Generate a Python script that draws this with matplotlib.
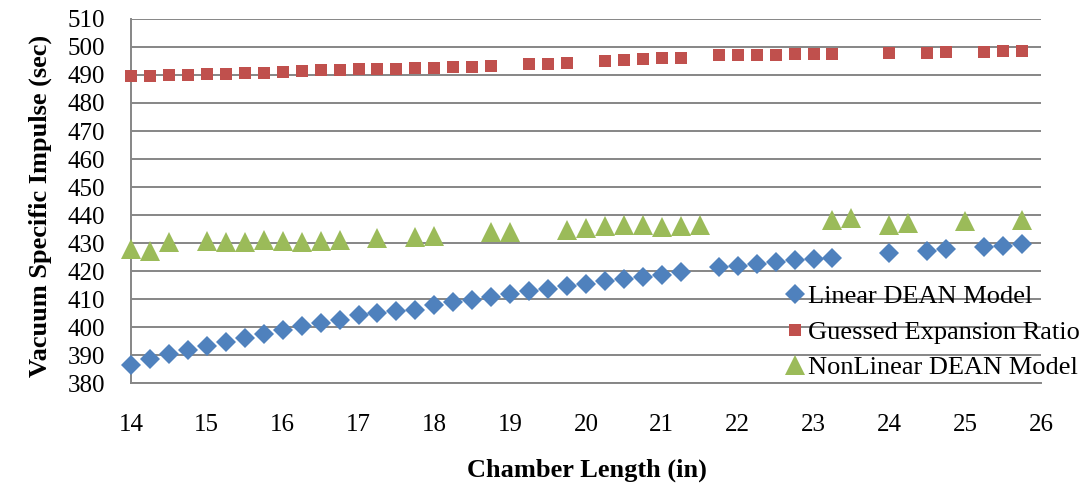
import matplotlib
matplotlib.use("Agg")
import matplotlib.pyplot as plt

plt.rcParams['font.family'] = ['Liberation Serif', 'DejaVu Serif']

# Chamber length (in) and vacuum specific impulse (sec) for each model
linear_x = [14.0, 14.25, 14.5, 14.75, 15.0, 15.25, 15.5, 15.75, 16.0, 16.25,
            16.5, 16.75, 17.0, 17.25, 17.5, 17.75, 18.0, 18.25, 18.5, 18.75,
            19.0, 19.25, 19.5, 19.75, 20.0, 20.25, 20.5, 20.75, 21.0, 21.25,
            21.75, 22.0, 22.25, 22.5, 22.75, 23.0, 23.25,
            24.0, 24.5, 24.75, 25.25, 25.5, 25.75]
linear_y = [386.3, 388.7, 390.2, 391.7, 393.1, 394.5, 396.1, 397.4, 399.0, 400.2,
            401.4, 402.6, 404.2, 405.0, 405.6, 406.0, 407.7, 408.9, 409.8, 410.7,
            411.7, 412.7, 413.7, 414.5, 415.2, 416.3, 417.3, 417.9, 418.7, 419.6,
            421.5, 421.8, 422.4, 423.3, 423.9, 424.2, 424.8,
            426.5, 427.1, 427.8, 428.6, 429.0, 429.6]

guessed_x = [14.0, 14.25, 14.5, 14.75, 15.0, 15.25, 15.5, 15.75, 16.0, 16.25,
             16.5, 16.75, 17.0, 17.25, 17.5, 17.75, 18.0, 18.25, 18.5, 18.75,
             19.25, 19.5, 19.75, 20.25, 20.5, 20.75, 21.0, 21.25,
             21.75, 22.0, 22.25, 22.5, 22.75, 23.0, 23.25,
             24.0, 24.5, 24.75, 25.25, 25.5, 25.75]
guessed_y = [489.5, 489.6, 489.9, 490.0, 490.2, 490.4, 490.6, 490.8, 491.0, 491.3,
             491.7, 491.8, 492.2, 492.2, 492.3, 492.4, 492.6, 492.9, 493.0, 493.2,
             493.8, 494.1, 494.3, 495.0, 495.4, 495.7, 495.9, 496.2,
             497.1, 497.1, 497.2, 497.3, 497.4, 497.4, 497.5,
             497.9, 498.0, 498.1, 498.3, 498.4, 498.6]

nonlinear_x = [14.0, 14.25, 14.5, 15.0, 15.25, 15.5, 15.75, 16.0, 16.25, 16.5,
               16.75, 17.25, 17.75, 18.0, 18.75, 19.0, 19.75, 20.0, 20.25, 20.5,
               20.75, 21.0, 21.25, 21.5, 23.25, 23.5, 24.0, 24.25, 25.0, 25.75]
nonlinear_y = [427.8, 427.1, 430.4, 430.7, 430.2, 430.2, 430.9, 430.8, 430.3, 430.8,
               431.2, 431.8, 432.1, 432.5, 434.0, 433.8, 434.6, 435.3, 436.1, 436.4,
               436.3, 435.7, 435.9, 436.4, 438.2, 438.8, 436.6, 437.1, 438.0, 438.1]

series_labels = ["Linear DEAN Model", "Guessed Expansion Ratio", "NonLinear DEAN Model"]
x_ticks = list(range(14, 27))
y_ticks = list(range(380, 511, 10))

BLUE = "#4F81BD"
RED = "#C0504D"
GREEN = "#9BBB59"
GRID = "#868686"

fig = plt.figure(figsize=(10.86, 4.90), dpi=100)
ax = fig.add_axes([131 / 1086, 1 - 383 / 490, (1041 - 131) / 1086, (383 - 19) / 490])

ax.plot(linear_x, linear_y, linestyle="none", marker="D", markersize=10.6,
        color=BLUE, markeredgewidth=0, label=series_labels[0], zorder=3, clip_on=False)
ax.plot(guessed_x, guessed_y, linestyle="none", marker="s", markersize=9.0,
        color=RED, markeredgewidth=0, label=series_labels[1], zorder=3, clip_on=False)
ax.plot(nonlinear_x, nonlinear_y, linestyle="none", marker="^", markersize=14.5,
        color=GREEN, markeredgewidth=0, label=series_labels[2], zorder=3, clip_on=False)

ax.set_xlim(14, 26)
ax.set_ylim(380, 510)
ax.set_xticks(x_ticks)
ax.set_yticks(y_ticks)
ax.tick_params(axis="both", length=0, labelsize=18, colors="black")
ax.tick_params(axis="x", pad=22)
ax.tick_params(axis="y", pad=18.5)

ax.grid(axis="y", color=GRID, linewidth=1.4, zorder=0)
ax.set_axisbelow(True)
for side in ("top", "right"):
    ax.spines[side].set_visible(False)
for side in ("left", "bottom"):
    ax.spines[side].set_color(GRID)
    ax.spines[side].set_linewidth(1.4)

fig.text(40 / 1086, 1 - 206 / 490, "Vacuum Specific Impulse (sec)", rotation=90,
         ha="center", va="center", fontsize=19, fontweight="bold")
fig.text(587 / 1086, 1 - 470 / 490, "Chamber Length (in)",
         ha="center", va="center", fontsize=19, fontweight="bold")

leg = ax.legend(loc="upper left", bbox_to_anchor=(784 / 1086, 1 - 285 / 490),
                bbox_transform=fig.transFigure, frameon=False, fontsize=19,
                borderpad=0, borderaxespad=0, handlelength=0.8, handletextpad=0.1,
                labelspacing=0.45)
leg.set_zorder(5)

fig.savefig("out.png", dpi=100)
